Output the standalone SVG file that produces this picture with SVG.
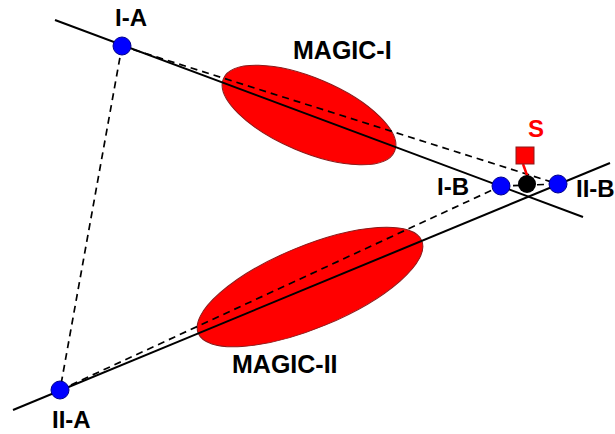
<svg xmlns="http://www.w3.org/2000/svg" width="615" height="434" viewBox="0 0 615 434">
<style>
.lbl{font-family:"Liberation Sans",Arial,sans-serif;font-weight:bold;font-size:24px;fill:#000}
.mag{font-size:25px}
.solid{stroke:#000;stroke-width:2;fill:none}
.dash{stroke:#000;stroke-width:1.7;stroke-dasharray:7 5;fill:none}
.det{fill:#ff0000;stroke:#8b1a1a;stroke-width:1}
.pt{fill:#0000ff;stroke:#00008b;stroke-width:1}
</style>
<rect width="615" height="434" fill="#fff"/>
<g id="magic-i"><ellipse class="det" cx="309" cy="115" rx="93" ry="37" transform="rotate(23 309 115)"/><text class="lbl mag" x="293" y="59">MAGIC-I</text></g>
<g id="magic-ii"><ellipse class="det" cx="310" cy="287" rx="121" ry="41" transform="rotate(-22.5 310 287)"/><text class="lbl mag" x="232" y="373">MAGIC-II</text></g>
<g id="connectors">
<line class="solid" x1="55" y1="20" x2="583" y2="217"/>
<line class="solid" x1="13" y1="410" x2="610" y2="163"/>
<line class="dash" x1="122" y1="46" x2="558" y2="184"/>
<line class="dash" x1="60" y1="390" x2="501" y2="186"/>
<line class="dash" x1="122" y1="46" x2="60" y2="390"/>
<line class="dash" x1="501" y1="186" x2="558" y2="184"/>
<line stroke="#ff0000" stroke-width="2.5" x1="523" y1="164" x2="528" y2="178"/>
</g>
<g id="I-A"><circle class="pt" cx="122" cy="46" r="9"/><text class="lbl" x="115" y="26">I-A</text></g>
<g id="II-A"><circle class="pt" cx="60" cy="390" r="9"/><text class="lbl" x="52" y="428">II-A</text></g>
<g id="I-B"><circle class="pt" cx="501" cy="186" r="9"/><text class="lbl" x="437" y="195">I-B</text></g>
<g id="II-B"><circle class="pt" cx="558" cy="184" r="9"/><text class="lbl" x="576" y="197">II-B</text></g>
<g id="S"><rect x="516" y="147" width="18" height="17" fill="#ff0000" stroke="#8b1a1a" stroke-width="1"/><circle cx="527" cy="184" r="9" fill="#000"/><text class="lbl" x="528" y="137" style="fill:#ff0000">S</text></g>
</svg>
